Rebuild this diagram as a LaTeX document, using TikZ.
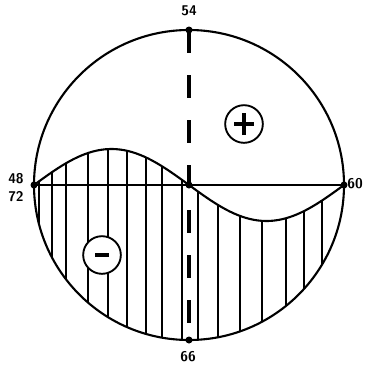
\documentclass[tikz,border=0pt]{standalone}
\usepackage{xcolor}
\begin{document}
\begin{tikzpicture}[x=0.03cm, y=-0.03cm,
    rim/.style={line width=1.8pt},
    hatch/.style={line width=1.3pt},
    axisdash/.style={line width=2.6pt, dash pattern=on 0.69cm off 0.66cm},
    dotpt/.style={circle, fill=black, inner sep=0pt, minimum size=0.21cm},
    lbl/.style={font=\sffamily\bfseries\large},
    signring/.style={circle, draw, line width=1.6pt, fill=white, minimum size=1.13cm, inner sep=0pt},
    signbar/.style={line width=2.6pt}]
      \useasboundingbox (0,0) rectangle (364,365);
      % \draw[help lines, gray!50, very thin] (0,0) grid[step=20] (364,365);

      \coordinate (ctr) at (189,185);
      \coordinate (top) at (189,30);
      \coordinate (bot) at (189,340);
      \coordinate (lft) at (34,185);
      \coordinate (rgt) at (344,185);

      % hatched part under the wave
      \begin{scope}
        \clip (ctr) circle (155);
        \clip plot[domain=34:344, samples=80] (\x, {185-36*sin(1.16129*(\x-34))})
          -- (344,345) -- (34,345) -- cycle;
        \foreach \hx in {39,52,66,88,108,127,146,162,182,198,218,240,262,286,304,322}
          \draw[hatch] (\hx,140) -- (\hx,345);
      \end{scope}

      \draw[rim] (ctr) circle (155);
      \draw[rim] plot[domain=34:344, samples=80] (\x, {185-36*sin(1.16129*(\x-34))});
      \draw[line width=1.3pt] (lft) -- (rgt);
      \draw[axisdash] (top) -- (bot);

      % signs
      \node[signring] (plus) at (244,124) {};
      \draw[signbar] ([xshift=-0.3cm]plus.center) -- ([xshift=0.3cm]plus.center);
      \draw[signbar] ([yshift=-0.33cm]plus.center) -- ([yshift=0.33cm]plus.center);
      \node[signring] (minus) at (102,255) {};
      \draw[signbar] ([xshift=-0.21cm]minus.center) -- ([xshift=0.21cm]minus.center);

      \foreach \p in {ctr,top,bot,lft,rgt}
        \node[dotpt] at (\p) {};

      \node[lbl] (l54) at (189,11) {54};
      \node[lbl] (l48) at (16,179) {48};
      \node[lbl] (l72) at (16,197) {72};
      \node[lbl] (l60) at (355,184) {60};
      \node[lbl] (l66) at (188,357) {66};
    \end{tikzpicture}
\end{document}
